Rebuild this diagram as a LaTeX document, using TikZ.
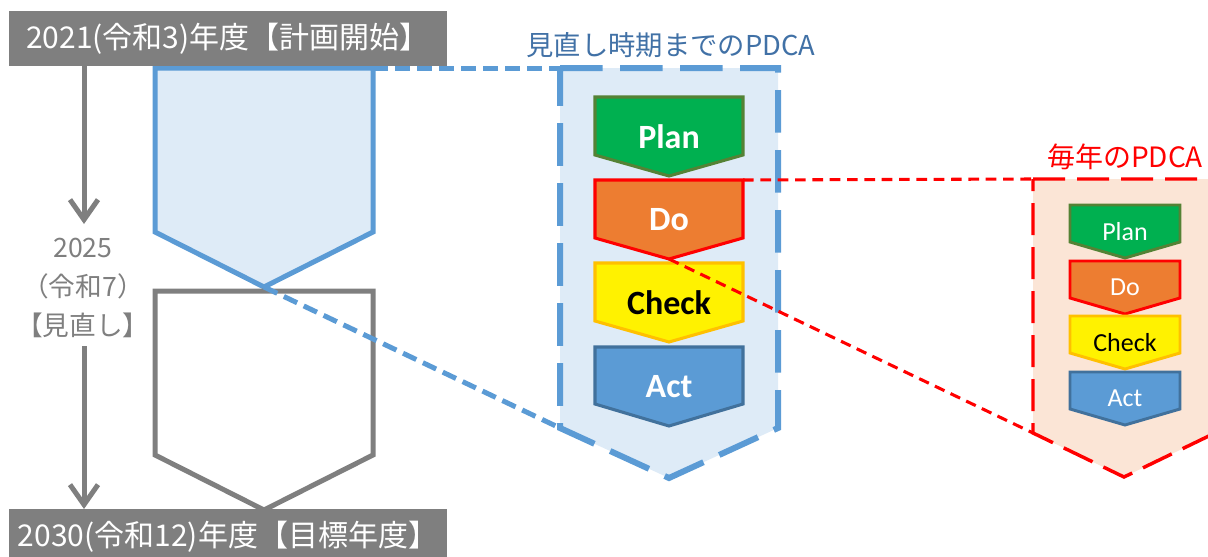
\documentclass[tikz,border=0pt]{standalone}
\usepackage{fontspec}
\newfontfamily\jp{Noto Sans CJK JP}
\newfontfamily\calib{Carlito}
\usetikzlibrary{arrows.meta}
\definecolor{gry}{HTML}{7F7F7F}
\definecolor{ltblue}{HTML}{DEEBF7}
\definecolor{midblue}{HTML}{5B9BD5}
\definecolor{dkblue}{HTML}{41719C}
\definecolor{ttlblue}{RGB}{65,113,166}
\definecolor{peach}{HTML}{FBE5D6}
\definecolor{pgreen}{HTML}{00B050}
\definecolor{pgreenline}{HTML}{548235}
\definecolor{porange}{HTML}{ED7D31}
\definecolor{pgold}{HTML}{FFC000}
\definecolor{pred}{HTML}{FF0000}
\newcommand\chevron[7]{% style, name, cx, top, halfwidth, rect height, depth
  \coordinate (#2-tl) at ({#3-#5},#4);
  \coordinate (#2-tr) at ({#3+#5},#4);
  \coordinate (#2-bl) at ({#3-#5},{#4+#6});
  \coordinate (#2-br) at ({#3+#5},{#4+#6});
  \coordinate (#2-tip) at (#3,{#4+#6+#7});
  \coordinate (#2-c) at (#3,{#4+(#6+#7)/2});
  \draw[#1] (#2-tl) -- (#2-tr) -- (#2-br) -- (#2-tip) -- (#2-bl) -- cycle;
}
\tikzset{
  banner/.style={fill=gry, text=white, minimum width=328.5pt, minimum height=41.25pt,
    inner sep=0pt, font=\jp\fontsize{22.5}{27}\selectfont},
  timearrow/.style={draw=gry, line width=3.75pt, -{Straight Barb[length=15pt,width=21pt]}},
  bigtxt/.style={font=\calib\bfseries\fontsize{25.5}{30}\selectfont},
  smalltxt/.style={font=\calib\fontsize{19.5}{24}\selectfont},
  bluecon/.style={draw=midblue, line width=3.75pt, dash pattern=on 11pt off 5.5pt},
  redcon/.style={draw=pred, line width=2.3pt, dash pattern=on 8pt off 5pt},
}
\begin{document}
\begin{tikzpicture}[x=0.75pt,y=-0.75pt]
\useasboundingbox (0,0) rectangle (1208,557);
\clip (0,0) rectangle (1208,557);

% left timeline pentagons
\chevron{draw=midblue, fill=ltblue, line width=3.75pt, line join=miter}{bp}{264}{68}{109}{164}{55}
\chevron{draw=gry, fill=white, line width=3.75pt, line join=miter}{gp}{264}{291}{109}{164}{55}

% big dashed pentagon
\chevron{fill=ltblue, draw=midblue, line width=4.5pt, dash pattern=on 32pt off 13pt}{BP}{669}{68}{109}{360}{50}
% small dashed pentagon
\chevron{fill=peach, draw=pred, line width=2.6pt, dash pattern=on 24pt off 9pt}{SP}{1124}{179}{91}{254}{44}

% banners
\node[banner] (start) at (228,38.5) {2021(令和3)年度【計画開始】};
\node[banner] (goal) at (228,536.5) {2030(令和12)年度【目標年度】};

% middle label
\node[align=center, text=gry, inner sep=0pt, font=\jp\fontsize{20}{29.5}\selectfont] (review) at (83,288) {2025\\（令和7）\\【見直し】};
\coordinate (a1s) at (84,66);
\coordinate (a1e) at (84,224);
\coordinate (a2s) at (84,346);
\coordinate (a2e) at (84,509);
\draw[timearrow] (a1s) -- (a1e);
\draw[timearrow] (a2s) -- (a2e);

% titles
\node[text=ttlblue, inner sep=0pt, font=\jp\fontsize{20.5}{24}\selectfont] (ttl1) at (671,45) {見直し時期までのPDCA};
\node[text=pred, inner sep=0pt, font=\jp\fontsize{21}{24}\selectfont] (ttl2) at (1125,157) {毎年のPDCA};

% big PDCA
\chevron{fill=pgreen, draw=pgreenline, line width=2.3pt}{P}{669}{97}{74}{58}{21}
\chevron{fill=porange, draw=pred, line width=2.3pt}{D}{669}{180}{74}{58}{21}
\chevron{fill=yellow, draw=pgold, line width=2.3pt}{C}{669}{263}{74}{58}{21}
\chevron{fill=midblue, draw=dkblue, line width=2.3pt}{A}{669}{347}{74}{57}{22}
\node[bigtxt, text=white] (Pt) at (P-c) {Plan};
\node[bigtxt, text=white] (Dt) at (D-c) {Do};
\node[bigtxt, text=black] (Ct) at (C-c) {Check};
\node[bigtxt, text=white] (At) at (A-c) {Act};

% small PDCA
\chevron{fill=pgreen, draw=pgreenline, line width=2.2pt}{p}{1125}{205}{55}{37}{16}
\chevron{fill=porange, draw=pred, line width=2.2pt}{d}{1125}{261}{55}{37}{16}
\chevron{fill=yellow, draw=pgold, line width=2.2pt}{c}{1125}{316}{55}{37}{16}
\chevron{fill=midblue, draw=dkblue, line width=2.2pt}{a}{1125}{372}{55}{37}{16}
\node[smalltxt, text=white] (pt) at (p-c) {Plan};
\node[smalltxt, text=white] (dt) at (d-c) {Do};
\node[smalltxt, text=black] (ct) at (c-c) {Check};
\node[smalltxt, text=white] (at) at (a-c) {Act};

% connectors
\draw[bluecon] (bp-tr) -- (BP-tl);
\draw[bluecon] (bp-tip) -- (BP-bl);
\draw[redcon] (D-tr) -- (SP-tl);
\draw[redcon] (D-tip) -- (SP-bl);
\end{tikzpicture}
\end{document}
